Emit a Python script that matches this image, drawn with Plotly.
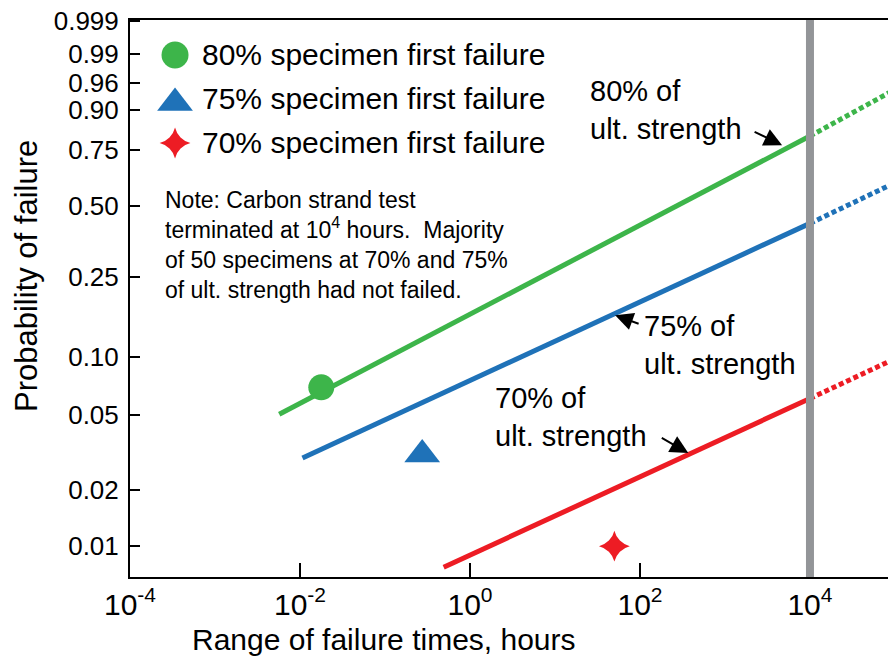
import numpy as np
import plotly.graph_objects as go

# ---------------- data ----------------
prob_ticks = [0.01, 0.02, 0.05, 0.10, 0.25, 0.50, 0.75, 0.90, 0.96, 0.99, 0.999]
prob_tick_labels = ["0.01", "0.02", "0.05", "0.10", "0.25", "0.50", "0.75",
                    "0.90", "0.96", "0.99", "0.999"]
time_ticks = [1e-4, 1e-2, 1e0, 1e2, 1e4]
time_tick_labels = ["10<sup>-4</sup>", "10<sup>-2</sup>", "10<sup>0</sup>",
                    "10<sup>2</sup>", "10<sup>4</sup>"]

series_names = ["80% specimen first failure", "75% specimen first failure",
                "70% specimen first failure"]
series_colors = ["#3DB54A", "#1F72B8", "#ED1C24"]
series_symbols = ["circle", "triangle-up", "star-diamond"]

# fitted Weibull lines (solid, up to test end) and extrapolations (dotted)
fit_80_hours = [0.0057, 1e4]
fit_80_prob = [0.0506, 0.809]
ext_80_hours = [1e4, 1e5]
ext_80_prob = [0.809, 0.948]

fit_75_hours = [0.0107, 1e4]
fit_75_prob = [0.0297, 0.428]
ext_75_hours = [1e4, 1e5]
ext_75_prob = [0.428, 0.604]

fit_70_hours = [0.49, 1e4]
fit_70_prob = [0.0077, 0.0612]
ext_70_hours = [1e4, 1e5]
ext_70_prob = [0.0612, 0.0985]

# first failure points
first_failure_hours = [0.0178, 0.274, 50.0]
first_failure_prob = [0.070, 0.031, 0.010]

test_end_hours = 1e4

# arrow targets for line labels
label_texts = ["80% of<br>ult. strength", "75% of<br>ult. strength", "70% of<br>ult. strength"]
arrow_hours = [4700.0, 51.0, 370.0]
arrow_prob = [0.772, 0.163, 0.0315]


def weib(p):
    p = np.asarray(p, dtype=float)
    return np.log(-np.log(1.0 - p))


FONT = "Liberation Sans, Arial, Helvetica, sans-serif"

fig = go.Figure()

fits = [(fit_80_hours, fit_80_prob, ext_80_hours, ext_80_prob),
        (fit_75_hours, fit_75_prob, ext_75_hours, ext_75_prob),
        (fit_70_hours, fit_70_prob, ext_70_hours, ext_70_prob)]

for (fh, fp, eh, ep), col in zip(fits, series_colors):
    fig.add_trace(go.Scatter(x=fh, y=weib(fp), mode="lines",
                             line=dict(color=col, width=5), showlegend=False,
                             hoverinfo="skip"))
    fig.add_trace(go.Scatter(x=eh, y=weib(ep), mode="lines",
                             line=dict(color=col, width=5, dash="5px,3px"),
                             showlegend=False, hoverinfo="skip"))

marker_sizes = [26, 31, 22]
for i in range(3):
    fig.add_trace(go.Scatter(x=[first_failure_hours[i]], y=weib([first_failure_prob[i]]),
                             mode="markers", name=series_names[i],
                             marker=dict(color=series_colors[i], symbol=series_symbols[i],
                                         size=marker_sizes[i], line=dict(width=0)),
                             showlegend=False))

# custom legend (overlay axis, fractions of plot area)
leg_x = 0.0594
leg_y = [0.9372, 0.8512, 0.7792]
leg_text_y = [0.9372, 0.8582, 0.7792]
for i in range(3):
    fig.add_trace(go.Scatter(x=[leg_x], y=[leg_y[i]], xaxis="x2", yaxis="y2",
                             mode="markers", showlegend=False, hoverinfo="skip",
                             marker=dict(color=series_colors[i], symbol=series_symbols[i],
                                         size=[27, 31, 22][i], line=dict(width=0))))
    fig.add_annotation(x=0.0923, y=leg_text_y[i], xref="paper", yref="paper",
                       text=series_names[i], showarrow=False, xanchor="left",
                       yanchor="middle", font=dict(size=30, color="black", family=FONT))

# test-end vertical line
fig.add_shape(type="line", xref="x", yref="paper", x0=test_end_hours,
              x1=test_end_hours, y0=0, y1=1,
              line=dict(color="#939598", width=8), layer="above")

# line labels
label_pos = [(0.6042, 0.8393), (0.6755, 0.4174), (0.4789, 0.2864)]
for (px, py), t in zip(label_pos, label_texts):
    fig.add_annotation(x=px, y=py, xref="paper", yref="paper", text=t, showarrow=False,
                       xanchor="left", yanchor="middle", align="left",
                       font=dict(size=29, color="black", family=FONT))

arrow_offsets = [(-29, -14), (25, 9), (-28, -16)]
for h, p, (ax, ay) in zip(arrow_hours, arrow_prob, arrow_offsets):
    fig.add_annotation(x=np.log10(h), y=float(weib([p])[0]), xref="x", yref="y",
                       text="", showarrow=True, ax=ax, ay=ay, arrowhead=2,
                       arrowsize=1.8, arrowwidth=2, arrowcolor="black")

# note
fig.add_annotation(x=0.0435, y=0.5952, xref="paper", yref="paper",
                   text=("Note: Carbon strand test<br>terminated at 10<sup>4</sup> hours.  Majority"
                         "<br>of 50 specimens at 70% and 75%<br>of ult. strength had not failed."),
                   showarrow=False, xanchor="left", yanchor="middle", align="left",
                   font=dict(size=23, color="black", family=FONT))

# axis titles
fig.add_annotation(x=0.3351, y=-0.1131, xref="paper", yref="paper",
                   text="Range of failure times, hours", showarrow=False,
                   xanchor="center", yanchor="middle",
                   font=dict(size=30, color="black", family=FONT))
fig.add_annotation(x=-0.1359, y=0.5404, xref="paper", yref="paper",
                   text="Probability of failure", showarrow=False, textangle=-90,
                   xanchor="center", yanchor="middle",
                   font=dict(size=31, color="black", family=FONT))

fig.update_layout(
    width=888, height=661,
    margin=dict(l=130, r=0, t=20, b=84, autoexpand=False),
    paper_bgcolor="white", plot_bgcolor="white",
    showlegend=False,
    font=dict(family=FONT, color="black"),
    xaxis=dict(type="log", range=[-4, 4.918], tickvals=time_ticks, ticktext=time_tick_labels,
               ticks="inside", ticklen=14, tickwidth=2, tickcolor="black",
               showline=True, linecolor="black", linewidth=2, mirror=True,
               showgrid=False, zeroline=False, automargin=False,
               tickfont=dict(size=30, color="black", family=FONT)),
    yaxis=dict(range=[-4.984, 1.949], tickvals=list(weib(prob_ticks)),
               ticktext=prob_tick_labels,
               ticks="inside", ticklen=10, tickwidth=2, tickcolor="black",
               showline=True, linecolor="black", linewidth=2,
               showgrid=False, zeroline=False, automargin=False,
               ticklabelstandoff=4,
               tickfont=dict(size=26, color="black", family=FONT)),
    xaxis2=dict(overlaying="x", range=[0, 1], visible=False),
    yaxis2=dict(overlaying="y", range=[0, 1], visible=False),
)

fig.write_html("out.html", config={"displayModeBar": False},
               post_script="document.body.style.margin='0';document.body.style.overflow='hidden';")
